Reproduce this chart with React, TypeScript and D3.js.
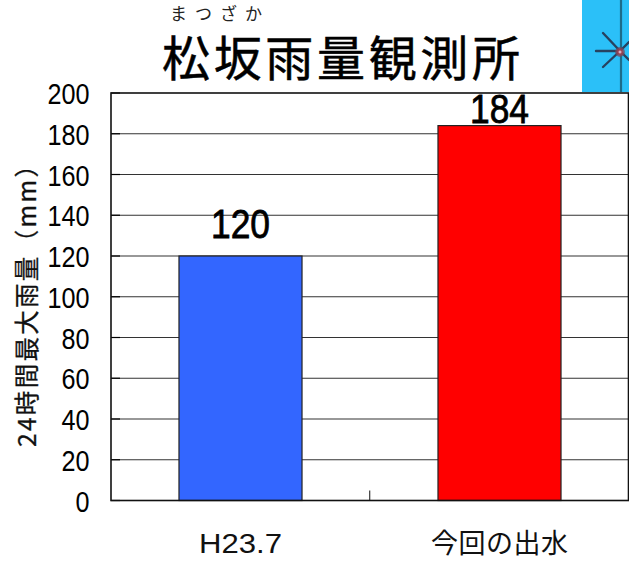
import React from "react";
import * as d3 from "d3";

const categories = ["H23.7", "今回の出水"];
const rainfall = [120, 184];
const barColors = ["#3366ff", "#ff0000"];
const yTicks = [0, 20, 40, 60, 80, 100, 120, 140, 160, 180, 200];
const title = "松坂雨量観測所";
const titleRuby = "まつざか";
const yTitle = "24時間最大雨量（mm）";

const W = 629, H = 561;
const FONT = "'Noto Sans CJK JP', sans-serif";
const LATIN = "'Liberation Sans', sans-serif";
const plot = { l: 111, r: 628.5, t: 93, b: 500.5 };

export default function App() {
  const y = d3.scaleLinear().domain([0, 200]).range([plot.b, plot.t]);
  const x = d3.scaleBand<string>().domain(categories).range([plot.l, plot.r + 0.5]).paddingInner(0.525).paddingOuter(0.2625);
  const mid = (plot.l + plot.r) / 2;
  return (
    <svg width={W} height={H} viewBox={`0 0 ${W} ${H}`} style={{ position: "fixed", left: 0, top: 0, display: "block", background: "#fff" }}>
      <defs>
        <radialGradient id="star">
          <stop offset="0" stopColor="#eef" />
          <stop offset="0.4" stopColor="#a04050" />
          <stop offset="1" stopColor="#6a4a60" stopOpacity={0.6} />
        </radialGradient>
      </defs>
      <rect x={582} y={0} width={47} height={92} fill="#2bc0f8" />
      <line x1={621} x2={621} y1={0} y2={92} stroke="#1c6c8c" strokeWidth={2.2} />
      <g stroke="#274260" strokeWidth={2.4} strokeLinecap="round">
        {[[596, 51], [603, 33], [603, 67], [629, 42], [629, 60]].map(([a, b], i) => (
          <line key={i} x1={620} y1={51} x2={a} y2={b} />
        ))}
      </g>
      <circle cx={620} cy={52} r={5} fill="url(#star)" />

      <text x={170} y={20} fontFamily={FONT} fontSize={17} textLength={92} lengthAdjust="spacing" fill="#222">{titleRuby}</text>
      <text x={162} y={76} fontFamily={FONT} fontSize={48} textLength={358} lengthAdjust="spacing" fill="#000" stroke="#000" strokeWidth={0.5}>{title}</text>

      {yTicks.filter(t => t > 0 && t < 200).map(t => (
        <line key={t} x1={plot.l} x2={plot.r} y1={y(t)} y2={y(t)} stroke="#333" strokeWidth={1.2} />
      ))}
      {yTicks.map(t => (
        <line key={`m${t}`} x1={plot.l} x2={plot.l + 9} y1={y(t)} y2={y(t)} stroke="#000" strokeWidth={1.2} />
      ))}
      {categories.map((c, i) => (
        <rect key={c} x={x(c)!} width={x.bandwidth()} y={y(rainfall[i])} height={y(0) - y(rainfall[i])} fill={barColors[i]} stroke="#222" strokeWidth={1.2} />
      ))}
      <rect x={plot.l} y={plot.t} width={plot.r - plot.l} height={plot.b - plot.t} fill="none" stroke="#111" strokeWidth={1.6} />
      <line x1={mid} x2={mid} y1={plot.b - 10} y2={plot.b} stroke="#111" strokeWidth={1} />

      {yTicks.map(t => (
        <text key={`l${t}`} x={89.5} y={y(t) + 11} fontFamily={LATIN} fontSize={29} textAnchor="end" fill="#000"
          textLength={String(t).length * 14} lengthAdjust="spacingAndGlyphs">{t}</text>
      ))}
      {categories.map((c, i) => (
        <text key={`v${c}`} x={x(c)! + x.bandwidth() / 2} y={y(rainfall[i]) - (i === 0 ? 18 : 3)} fontFamily={LATIN} fontSize={41} textAnchor="middle" fill="#000"
          textLength={59} lengthAdjust="spacingAndGlyphs" stroke="#000" strokeWidth={0.8}>{rainfall[i]}</text>
      ))}
      <text x={199} y={553} fontFamily={LATIN} fontSize={28} textLength={83} lengthAdjust="spacingAndGlyphs" fill="#111">{categories[0]}</text>
      <text x={431} y={553} fontFamily={FONT} fontSize={27} textLength={137} lengthAdjust="spacing" fill="#111">{categories[1]}</text>
      <text transform="translate(36,447) rotate(-90)" fontFamily={FONT} fontSize={24.5} fill="#111" stroke="#111" strokeWidth={0.3} textLength={294} lengthAdjust="spacing">{yTitle}</text>
    </svg>
  );
}
